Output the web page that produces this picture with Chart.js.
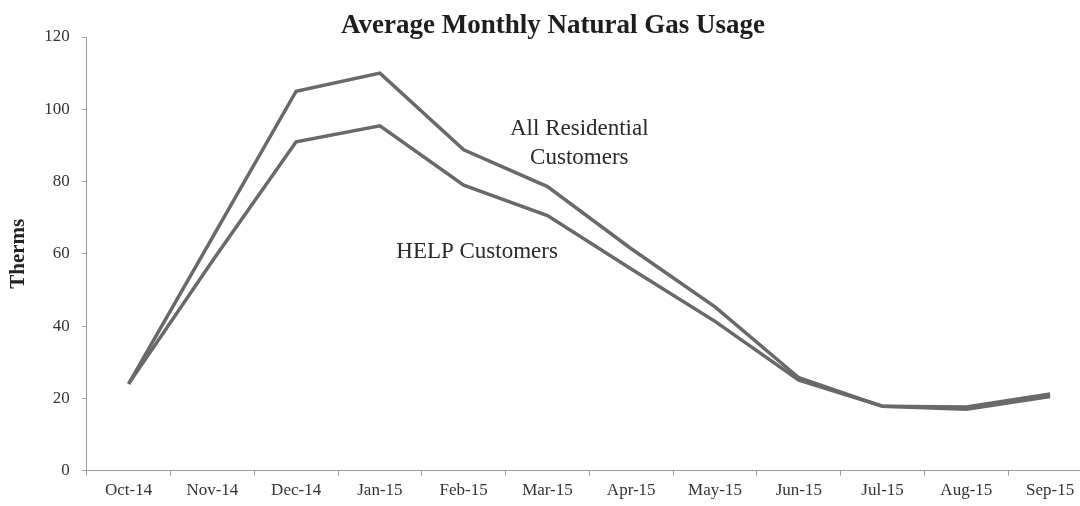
<!DOCTYPE html>
<html>
<head>
<meta charset="utf-8">
<script src="https://cdn.jsdelivr.net/npm/chart.js@4/dist/chart.umd.min.js"></script>
<style>
  html, body { margin: 0; padding: 0; background: #fff; overflow: hidden; }
  #wrap { width: 1092px; height: 506px; }
</style>
</head>
<body>
<div id="wrap"><canvas id="gasChart" width="1092" height="506"></canvas></div>
<script>
const months = ['Oct-14', 'Nov-14', 'Dec-14', 'Jan-15', 'Feb-15', 'Mar-15',
                'Apr-15', 'May-15', 'Jun-15', 'Jul-15', 'Aug-15', 'Sep-15'];
const allResidential = [24, 64.5, 105, 110, 88.8, 78.6, 61.4, 45.3, 25.7, 17.8, 17.6, 21.2];
const helpCustomers = [24, 58, 91, 95.4, 79, 70.6, 55.8, 41.3, 25, 17.8, 17, 20.5];
const yTicks = [0, 20, 40, 60, 80, 100, 120];

const chartTitle = 'Average Monthly Natural Gas Usage';

// series labels drawn next to the lines: [text lines, category position, value]
const lineLabels = [
    { text: ['All Residential', 'Customers'], at: 5.38, value: 94.6 },
    { text: ['HELP Customers'], at: 4.16, value: 60.4 }
];

const serif = "'Liberation Serif', 'DejaVu Serif', serif";

// title drawn by hand so the plot top can sit right under it
const titlePlugin = {
    id: 'topTitle',
    afterDraw(chart) {
        const ctx = chart.ctx;
        ctx.save();
        ctx.fillStyle = '#1e1e1e';
        ctx.font = 'bold 27px ' + serif;
        ctx.textAlign = 'center';
        ctx.textBaseline = 'alphabetic';
        ctx.fillText(chartTitle, 553, 33);
        ctx.restore();
    }
};

const lineLabelPlugin = {
    id: 'lineLabels',
    afterDatasetsDraw(chart) {
        const { ctx, scales: { x, y } } = chart;
        ctx.save();
        ctx.fillStyle = '#2a2a2a';
        ctx.font = '23px ' + serif;
        ctx.textAlign = 'center';
        ctx.textBaseline = 'middle';
        lineLabels.forEach(l => {
            const px = x.getPixelForValue(l.at);
            const py = y.getPixelForValue(l.value);
            l.text.forEach((t, i) => ctx.fillText(t, px, py + i * 29));
        });
        ctx.restore();
    }
};

new Chart(document.getElementById('gasChart').getContext('2d'), {
    type: 'line',
    data: {
        labels: months,
        datasets: [
            { label: 'All Residential Customers', data: allResidential },
            { label: 'HELP Customers', data: helpCustomers }
        ].map(d => ({
            ...d,
            borderColor: '#696969',
            borderWidth: 3.5,
            pointRadius: 0,
            tension: 0,
            fill: false
        }))
    },
    options: {
        responsive: false,
        animation: false,
        layout: { padding: { left: 6, right: 0, top: 37, bottom: 0 } },
        plugins: {
            legend: { display: false },
            tooltip: { enabled: false },
            title: { display: false }
        },
        scales: {
            x: {
                offset: true,
                grid: {
                    offset: true,
                    drawOnChartArea: false,
                    drawTicks: true,
                    tickLength: 5,
                    color: '#999'
                },
                border: { color: '#9a9a9a', width: 1 },
                ticks: {
                    color: '#333',
                    font: { family: serif, size: 17 },
                    maxRotation: 0,
                    autoSkip: false,
                    padding: 5
                }
            },
            y: {
                min: 0,
                max: 120,
                afterBuildTicks: axis => { axis.ticks = yTicks.map(v => ({ value: v })); },
                grid: {
                    drawOnChartArea: false,
                    tickLength: 5,
                    color: '#aaa'
                },
                border: { color: '#9a9a9a', width: 1 },
                ticks: {
                    color: '#333',
                    font: { family: serif, size: 17 },
                    padding: 12
                },
                title: {
                    display: true,
                    text: 'Therms',
                    color: '#222',
                    font: { family: serif, size: 21, weight: 'bold' },
                    padding: { top: 0, bottom: 1 }
                }
            }
        }
    },
    plugins: [lineLabelPlugin, titlePlugin]
});
</script>
</body>
</html>
